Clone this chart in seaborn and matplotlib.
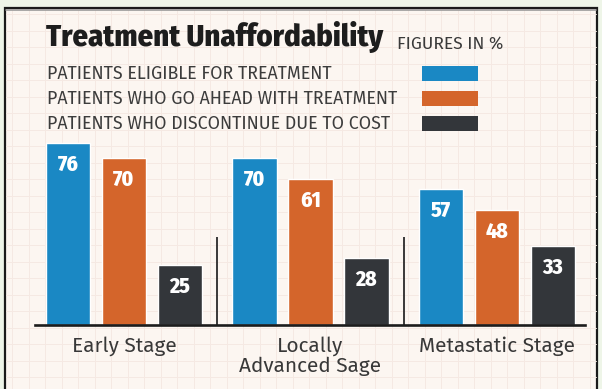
import matplotlib
matplotlib.use("Agg")
import matplotlib.pyplot as plt
from matplotlib.patches import Rectangle
import seaborn as sns
import pandas as pd
import numpy as np

# ---- data ----
stages = ["Early Stage", "Locally\nAdvanced Sage", "Metastatic Stage"]
series = ["PATIENTS ELIGIBLE FOR TREATMENT",
          "PATIENTS WHO GO AHEAD WITH TREATMENT",
          "PATIENTS WHO DISCONTINUE DUE TO COST"]
eligible = [76, 70, 57]
go_ahead = [70, 61, 48]
discontinue = [25, 28, 33]
colors = ["#1a88c4", "#d4652b", "#33363a"]
title = "Treatment Unaffordability"
subtitle = "FIGURES IN %"

df = pd.DataFrame({
    "stage": stages * 3,
    "series": [series[0]] * 3 + [series[1]] * 3 + [series[2]] * 3,
    "value": eligible + go_ahead + discontinue,
})

sns.set_style("white")
COND = ["Fira Sans Condensed", "Roboto Condensed", "DejaVu Sans"]
REG = ["Fira Sans", "Open Sans", "DejaVu Sans"]
plt.rcParams["font.family"] = COND

W, H = 602, 389
fig = plt.figure(figsize=(W / 100, H / 100), dpi=100)
fig.patch.set_facecolor("#eef5e8")

def fx(px):
    return px / W

def fy(py):
    return 1 - py / H

# inner panel with faint grid
bg = fig.add_axes([0, 0, 1, 1], zorder=0)
bg.set_xlim(0, W)
bg.set_ylim(H, 0)
bg.axis("off")
bg.add_patch(Rectangle((5, 8), 592, 400, facecolor="#fcf6f1", edgecolor="#1a1a1a", lw=1.6, zorder=1))
for gx in np.arange(12, 597, 16.5):
    bg.plot([gx, gx], [9, H], color="#f5e9e3", lw=0.7, zorder=2)
for gy in np.arange(14, H, 16.5):
    bg.plot([6, 596], [gy, gy], color="#f5e9e3", lw=0.7, zorder=2)
bg.plot([6, 596], [9.5, 9.5], color="#9a9a9a", lw=1.2, zorder=3)

# chart axes
left, right, base, top = 35, 585, 325, 325 - 239
ax = fig.add_axes([fx(left), fy(base), fx(right - left), (base - top) / H], zorder=2)
ax.patch.set_alpha(0)

sns.barplot(data=df, x="stage", y="value", hue="series", hue_order=series,
            palette=colors, width=0.9, gap=0.2, ax=ax, legend=False,
            saturation=1, errorbar=None)

ax.set_xlim(-0.477, 2.472)
ax.set_ylim(0, 100)
ax.set_xlabel("")
ax.set_ylabel("")
ax.set_yticks([])
for s in ["top", "left", "right"]:
    ax.spines[s].set_visible(False)
ax.spines["bottom"].set_linewidth(1.9)
ax.spines["bottom"].set_color("#1c1c1c")
ax.tick_params(axis="x", length=0, pad=8, labelcolor="#383838")
for lab in ax.get_xticklabels():
    lab.set_linespacing(1.05)
    lab.set_fontsize(15)
    lab.set_family(REG)

# value labels inside bars
for cont in ax.containers:
    for bar in cont:
        h = bar.get_height()
        ax.annotate(f"{h:.0f}", (bar.get_x() + bar.get_width() / 2, h),
                    xytext=(0, -8), textcoords="offset points",
                    ha="center", va="top", color="white",
                    fontsize=15.5, fontweight="heavy")

# separators
for xs in [0.5, 1.5]:
    ax.plot([xs, xs], [0, 37], color="#2a2a2a", lw=1.3, solid_capstyle="butt")

# title & legend
fig.text(fx(46), fy(46), title, fontsize=22, fontweight="heavy",
         color="#1d1d1d", va="baseline", ha="left")
fig.text(fx(397), fy(49), subtitle, fontsize=12.5, color="#3a3a3a",
         va="baseline", ha="left", family=REG)

leg_y = [74, 99, 124]
for lbl, col, yy in zip(series, colors, leg_y):
    fig.text(fx(47), fy(yy), lbl, fontsize=12.8, color="#3c3c3c",
             va="center", ha="left", family=REG)
    bg.add_patch(Rectangle((422, yy - 8), 56, 15, facecolor=col, edgecolor="none", zorder=5))

fig.savefig("out.png", dpi=100, facecolor=fig.get_facecolor())
